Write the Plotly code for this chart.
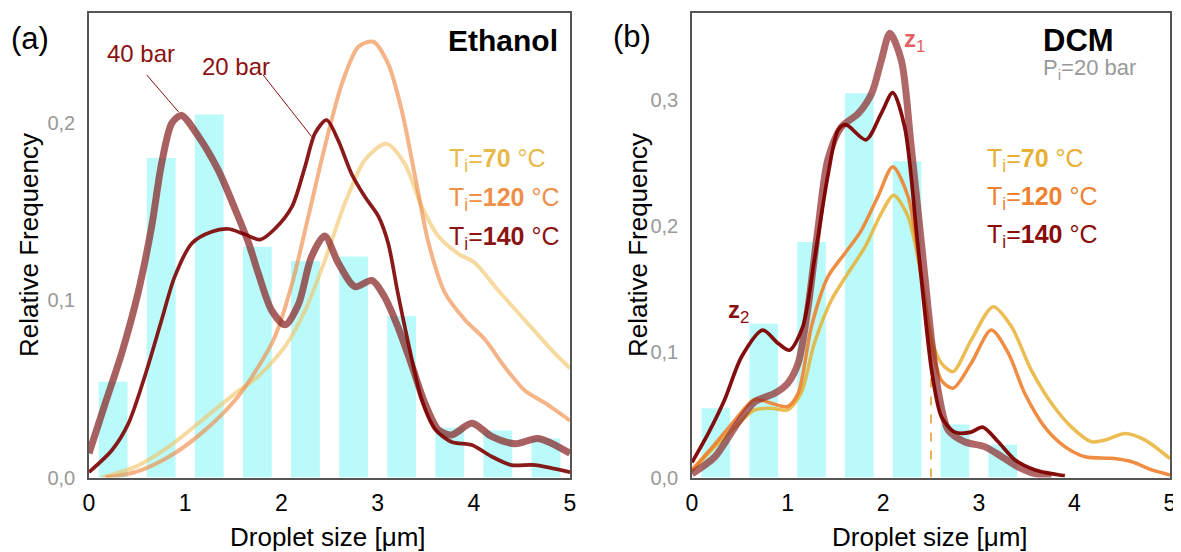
import plotly.graph_objects as go

# page body adds an 8px margin at the top-left; the figure runs past the window's right/bottom
OFF = 8
W, H = 1181, 552

# ---------------- data: (a) Ethanol ----------------
eth_bar_x = [0.25, 0.75, 1.25, 1.75, 2.25, 2.75, 3.25, 3.75, 4.25, 4.75]
eth_bar_y = [0.054, 0.180, 0.2045, 0.130, 0.122, 0.1245, 0.091, 0.028, 0.0265, 0.022]

eth_40_x = [0, 0.17, 0.34, 0.51, 0.65, 0.755, 0.86, 0.96, 1.14, 1.345, 1.52, 1.66, 1.76, 1.90,
            2.04, 2.18, 2.31, 2.45, 2.59, 2.765, 2.94, 3.07, 3.21, 3.35, 3.49, 3.63, 3.77, 3.98,
            4.19, 4.43, 4.67, 5.0]
eth_40_y = [0.0136, 0.042, 0.070, 0.104, 0.141, 0.177, 0.1995, 0.204, 0.192, 0.173, 0.151, 0.132,
            0.115, 0.094, 0.086, 0.098, 0.124, 0.136, 0.121, 0.1075, 0.111, 0.102, 0.085, 0.064,
            0.042, 0.027, 0.024, 0.0305, 0.023, 0.019, 0.022, 0.0136]

eth_140_x = [0, 0.24, 0.41, 0.58, 0.755, 0.89, 1.07, 1.275, 1.45, 1.62, 1.78, 1.93, 2.11, 2.245,
             2.35, 2.47, 2.59, 2.73, 2.87, 3.01, 3.11, 3.21, 3.32, 3.46, 3.60, 3.77, 3.98, 4.19,
             4.39, 4.64, 5.0]
eth_140_y = [0.003, 0.0155, 0.0305, 0.057, 0.0887, 0.113, 0.132, 0.1385, 0.140, 0.137, 0.134,
             0.140, 0.1526, 0.175, 0.194, 0.2014, 0.190, 0.171, 0.158, 0.147, 0.132, 0.104,
             0.0756, 0.0437, 0.027, 0.020, 0.0183, 0.0117, 0.007, 0.007, 0.003]

eth_120_x = [0.17, 0.48, 0.83, 1.17, 1.52, 1.76, 1.93, 2.11, 2.28, 2.45, 2.63, 2.80, 2.955, 3.11,
             3.25, 3.39, 3.53, 3.70, 3.91, 4.12, 4.32, 4.53, 4.74, 5.0]
eth_120_y = [0.0, 0.003, 0.0117, 0.025, 0.0437, 0.0624, 0.079, 0.109, 0.147, 0.186, 0.222, 0.2427,
             0.2455, 0.233, 0.207, 0.1695, 0.132, 0.104, 0.0887, 0.0775, 0.0624, 0.049, 0.042, 0.032]

eth_70_x = [0.13, 0.48, 0.83, 1.17, 1.52, 1.76, 2.04, 2.245, 2.45, 2.66, 2.87, 3.09, 3.28, 3.46,
            3.63, 3.84, 4.01, 4.25, 4.53, 4.81, 5.0]
eth_70_y = [0.0, 0.006, 0.0174, 0.032, 0.0474, 0.057, 0.074, 0.094, 0.122, 0.1545, 0.179, 0.188,
            0.177, 0.1526, 0.136, 0.126, 0.121, 0.1056, 0.0887, 0.0718, 0.0615]

# ---------------- data: (b) DCM ----------------
dcm_bar_x = [0.25, 0.75, 1.25, 1.75, 2.25, 2.75, 3.25]
dcm_bar_y = [0.055, 0.122, 0.187, 0.305, 0.251, 0.042, 0.026]

dcm_z1_x = [0.0, 0.24, 0.45, 0.655, 0.865, 1.0, 1.11, 1.21, 1.32, 1.42, 1.56, 1.74, 1.88, 1.98,
            2.07, 2.19, 2.29, 2.40, 2.51, 2.58, 2.68, 2.85, 3.06, 3.24, 3.41, 3.59, 3.76]
dcm_z1_y = [0.003, 0.0165, 0.040, 0.060, 0.0668, 0.0747, 0.0906, 0.133, 0.199, 0.252, 0.278, 0.289,
            0.305, 0.331, 0.3525, 0.331, 0.265, 0.186, 0.106, 0.0668, 0.0377, 0.0284, 0.0245,
            0.0165, 0.0085, 0.003, 0.001]

dcm_140_x = [0.0, 0.17, 0.34, 0.52, 0.74, 0.90, 1.02, 1.16, 1.28, 1.42, 1.53, 1.61, 1.82, 1.98,
             2.10, 2.225, 2.36, 2.51, 2.61, 2.75, 2.92, 3.04, 3.20, 3.38, 3.59, 3.90]
dcm_140_y = [0.012, 0.035, 0.0615, 0.096, 0.117, 0.1065, 0.101, 0.12, 0.1726, 0.239, 0.276, 0.280,
             0.268, 0.289, 0.3054, 0.278, 0.186, 0.083, 0.048, 0.036, 0.036, 0.040, 0.0286,
             0.0139, 0.006, 0.0014]

dcm_120_x = [0.0, 0.24, 0.45, 0.655, 0.83, 1.0, 1.11, 1.25, 1.42, 1.60, 1.77, 1.945, 2.10, 2.26,
             2.40, 2.52, 2.61, 2.73, 2.92, 3.13, 3.31, 3.48, 3.69, 3.90, 4.11, 4.39, 4.60, 4.81, 5.0]
dcm_120_y = [0.006, 0.0265, 0.0456, 0.062, 0.0589, 0.0563, 0.0668, 0.12, 0.159, 0.178, 0.196,
             0.223, 0.2467, 0.223, 0.159, 0.100, 0.077, 0.0708, 0.0906, 0.117, 0.0985, 0.0668,
             0.040, 0.0245, 0.0165, 0.0152, 0.0125, 0.006, 0.002]

dcm_70_x = [0.0, 0.24, 0.45, 0.655, 0.83, 1.0, 1.14, 1.28, 1.46, 1.63, 1.81, 1.98, 2.11, 2.26,
            2.40, 2.51, 2.61, 2.73, 2.92, 3.15, 3.34, 3.55, 3.76, 3.97, 4.18, 4.32, 4.53, 4.74, 5.0]
dcm_70_y = [0.005, 0.0245, 0.040, 0.0536, 0.0549, 0.0536, 0.0668, 0.1065, 0.141, 0.162, 0.183,
            0.2097, 0.224, 0.207, 0.159, 0.109, 0.0906, 0.084, 0.109, 0.1356, 0.12, 0.085, 0.0589,
            0.040, 0.0284, 0.0297, 0.035, 0.0297, 0.015]

dash_x = [2.5, 2.5]
dash_y = [0.0, 0.11]

x_ticks = [0, 1, 2, 3, 4, 5]
eth_yticks = [0.0, 0.1, 0.2]
dcm_yticks = [0.0, 0.1, 0.2, 0.3]
eth_yticktext = ["0,0", "0,1", "0,2"]
dcm_yticktext = ["0,0", "0,1", "0,2", "0,3"]

FONT = "Liberation Sans, Arial, sans-serif"
BAR_C = "rgba(64,240,240,0.36)"

fig = go.Figure()

def line(x, y, color, width, xa, ya, dash=None, shape="spline"):
    fig.add_trace(go.Scatter(x=x, y=y, mode="lines", xaxis=xa, yaxis=ya,
                             line=dict(color=color, width=width, shape=shape, smoothing=0.8,
                                       dash=dash),
                             showlegend=False, hoverinfo="skip"))

# (a)
fig.add_trace(go.Bar(x=eth_bar_x, y=eth_bar_y, width=0.3, marker=dict(color=BAR_C, line_width=0),
                     xaxis="x", yaxis="y", showlegend=False))
line(eth_70_x, eth_70_y, "rgba(240,196,100,0.62)", 4, "x", "y")
line(eth_120_x, eth_120_y, "rgba(238,140,70,0.65)", 4, "x", "y")
line(eth_40_x, eth_40_y, "rgba(135,35,35,0.72)", 7, "x", "y")
line(eth_140_x, eth_140_y, "rgba(125,0,0,0.9)", 3.7, "x", "y")

# (b)
fig.add_trace(go.Bar(x=dcm_bar_x, y=dcm_bar_y, width=0.3, marker=dict(color=BAR_C, line_width=0),
                     xaxis="x2", yaxis="y2", showlegend=False))
line(dash_x, dash_y, "rgba(230,170,70,0.9)", 2, "x2", "y2", dash="dash", shape="linear")
line(dcm_70_x, dcm_70_y, "rgba(230,172,40,0.8)", 3.5, "x2", "y2")
line(dcm_120_x, dcm_120_y, "rgba(238,125,40,0.88)", 3.5, "x2", "y2")
line(dcm_z1_x, dcm_z1_y, "rgba(145,45,45,0.72)", 7, "x2", "y2")
line(dcm_140_x, dcm_140_y, "rgba(125,0,0,0.95)", 3.7, "x2", "y2")

def px(x):
    return (x - OFF) / W

def py(y):
    return 1 - (y - OFF) / H

ydom = [py(477.5), py(13)]
axis_common = dict(showline=True, linecolor="#555", linewidth=1.5, mirror=True, ticks="",
                   showgrid=False, zeroline=False, fixedrange=True, automargin=False)

fig.update_layout(
    width=W, height=H, margin=dict(l=0, r=0, t=0, b=0, autoexpand=False),
    paper_bgcolor="white", plot_bgcolor="white", barmode="overlay",
    font=dict(family=FONT, color="black"),
    xaxis=dict(domain=[px(89), px(570)], range=[0, 5], tickvals=x_ticks,
               tickfont=dict(size=23, color="black"), ticklabelstandoff=4, anchor="y",
               **axis_common),
    yaxis=dict(domain=ydom, range=[0, (477.5 - 13) / 1775], tickvals=eth_yticks,
               ticktext=eth_yticktext, tickfont=dict(size=20, color="#999"),
               ticklabelstandoff=8, anchor="x", **axis_common),
    xaxis2=dict(domain=[px(692), px(1170)], range=[0, 5], tickvals=x_ticks,
                tickfont=dict(size=23, color="black"), ticklabelstandoff=4, anchor="y2",
                **axis_common),
    yaxis2=dict(domain=ydom, range=[0, (477.5 - 13) / 1260], tickvals=dcm_yticks,
                ticktext=dcm_yticktext, tickfont=dict(size=20, color="#999"),
                ticklabelstandoff=8, anchor="x2", **axis_common),
)

ann = []

def text(x, y, s, size, color="black", xanchor="center", angle=0):
    ann.append(dict(x=px(x), y=py(y), xref="paper", yref="paper", text=s, showarrow=False,
                    xanchor=xanchor, yanchor="middle", textangle=angle,
                    font=dict(size=size, color=color, family=FONT)))

# axis titles
text(29, 245, "Relative Frequency", 26, angle=-90)
text(638, 245, "Relative Frequency", 26, angle=-90)
text(328, 537, "Droplet size [μm]", 26)
text(930, 537, "Droplet size [μm]", 26)

# panel labels
text(30, 38, "(a)", 31)
text(632, 36, "(b)", 31)
text(560, 40, "<b>Ethanol</b>", 30, xanchor="right")
text(1078, 40, "<b>DCM</b>", 31)
text(1041, 69, "P<sub>i</sub>=20 bar", 22, color="#999", xanchor="left")

# pressure labels (a)
text(141, 53, "40 bar", 24, color="#8b1010")
text(236, 66, "20 bar", 24, color="#8b1010")

# z labels (b)
text(914, 40, "<b>z</b><sub>1</sub>", 24, color="#e36060")
text(738, 311, "<b>z</b><sub>2</sub>", 24, color="#8b1010")

# temperature legends
leg_a = [("70", "#e8ba4c", 160), ("120", "#ef8f4a", 199), ("140", "#8b1414", 238)]
for num, col, yy in leg_a:
    text(447, yy, f"T<sub>i</sub>=<b>{num}</b> °C", 25, color=col, xanchor="left")
leg_b = [("70", "#e6b034", 160), ("120", "#ef8231", 198), ("140", "#8b0a0a", 236)]
for num, col, yy in leg_b:
    text(985, yy, f"T<sub>i</sub>=<b>{num}</b> °C", 25, color=col, xanchor="left")

fig.update_layout(annotations=ann)

# leader lines for pressure labels
fig.add_shape(type="line", xref="x", yref="y", x0=0.60, y0=0.2268, x1=0.93, y1=0.206,
              line=dict(color="#8b1010", width=1))
fig.add_shape(type="line", xref="x", yref="y", x0=1.81, y0=0.2268, x1=2.315, y1=0.192,
              line=dict(color="#8b1010", width=1))

fig.write_html("out.html")
